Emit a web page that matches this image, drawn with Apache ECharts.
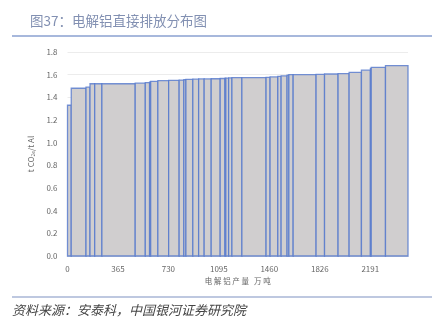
<!DOCTYPE html>
<html><head><meta charset="utf-8">
<script src="https://cdn.jsdelivr.net/npm/echarts@6/dist/echarts.min.js"></script>
<style>html,body{margin:0;padding:0;background:#fff}#c{width:443px;height:329px}</style>
</head><body><div id="c"></div>
<script>
// Capacity of each plant (万吨), in cost-curve order
const widths = [27,107,29,34,52,241,73,31,8,52,78,76,34,15,50,42,40,51,65,34,7,20,24,72,175,29,56,24,43,13,31,166,61,98,80,89,65,6,103,163];
// Direct emission intensity (t CO2e / t Al)
const values = [1.33,1.48,1.49,1.52,1.52,1.52,1.525,1.53,1.535,1.54,1.547,1.55,1.552,1.555,1.558,1.56,1.562,1.562,1.564,1.566,1.568,1.57,1.572,1.574,1.574,1.576,1.58,1.585,1.59,1.595,1.60,1.60,1.602,1.606,1.61,1.62,1.64,1.655,1.665,1.68];
const xTicks = [0,365,730,1095,1460,1826,2191];
const yTicks = [0,0.2,0.4,0.6,0.8,1.0,1.2,1.4,1.6,1.8];

const data = [];
let acc = 0;
for (let i = 0; i < widths.length; i++) {
  data.push([acc, acc + widths[i], values[i]]);
  acc += widths[i];
}
const xMax = acc;

const chart = echarts.init(document.getElementById('c'));
chart.setOption({
  animation: false,
  textStyle: {fontFamily: 'Noto Sans CJK SC, Noto Sans, sans-serif'},
  grid: {left: 67.5, right: 35, top: 52, bottom: 73, containLabel: false},
  graphic: [
    {type: 'text', left: 30, top: 14, style: {text: '图37：电解铝直接排放分布图', fill: '#8290b2', font: '13.5px "Noto Sans CJK SC"'}},
    {type: 'line', shape: {x1: 12, y1: 36, x2: 432, y2: 36}, style: {stroke: '#8aa0d0', lineWidth: 1.5}},
    {type: 'line', shape: {x1: 12, y1: 297, x2: 432, y2: 297}, style: {stroke: '#a9b6d6', lineWidth: 1.5}},
    {type: 'text', left: 12, top: 304, style: {text: '资料来源：安泰科，中国银河证券研究院', fill: '#444', font: 'italic 13px "Noto Sans CJK SC"'}}
  ],
  xAxis: {
    type: 'value', min: 0, max: xMax,
    name: '电 解 铝 产 量   万 吨', nameLocation: 'middle', nameGap: 17,
    nameTextStyle: {fontSize: 7.5, color: '#666'},
    axisLine: {show: true, lineStyle: {color: '#d9d9d9'}},
    axisTick: {show: false},
    splitLine: {show: false},
    axisLabel: {customValues: xTicks, fontSize: 8, color: '#666', margin: 9, formatter: v => String(v)}
  },
  yAxis: {
    type: 'value', min: 0, max: 1.8, interval: 0.2,
    name: 't CO{s|2e}/t Al', nameLocation: 'middle', nameGap: 26, nameRotate: 90,
    nameTextStyle: {fontSize: 8, color: '#666', rich: {s: {fontSize: 5, color: '#666', verticalAlign: 'bottom', padding: [4,0,0,0]}}},
    axisLine: {show: false}, axisTick: {show: false},
    splitLine: {lineStyle: {color: '#ececec'}},
    axisLabel: {fontSize: 8, color: '#666', margin: 10, formatter: v => v.toFixed(1)}
  },
  series: [{
    type: 'custom',
    data: data,
    encode: {x: [0, 1], y: 2},
    renderItem: function (params, api) {
      const p0 = api.coord([api.value(0), api.value(2)]);
      const p1 = api.coord([api.value(1), 0]);
      return {
        type: 'rect',
        shape: {x: p0[0], y: p0[1], width: p1[0] - p0[0], height: p1[1] - p0[1]},
        style: {fill: '#d0cecf', stroke: 'rgba(84,120,205,0.8)', lineWidth: 1.3}
      };
    }
  }]
});
</script></body></html>
